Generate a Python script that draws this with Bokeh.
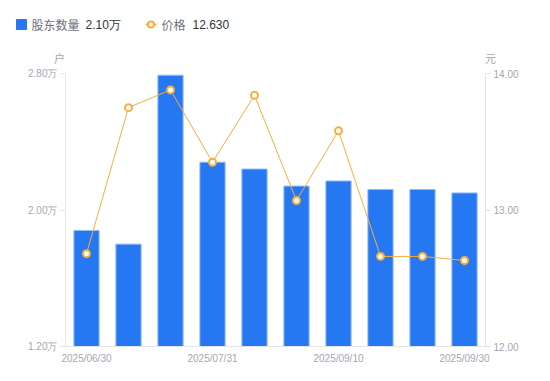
from bokeh.plotting import figure
from bokeh.models import (Range1d, LinearAxis, FixedTicker, PrintfTickFormatter,
                          ColumnDataSource, Label)
from bokeh.embed import file_html
from bokeh.resources import INLINE

dates = ["2025/06/30", "2025/07/10", "2025/07/20", "2025/07/31", "2025/08/15",
         "2025/08/29", "2025/09/10", "2025/09/19", "2025/09/26", "2025/09/30"]
holders = [1.88, 1.80, 2.79, 2.28, 2.24, 2.14, 2.17, 2.12, 2.12, 2.10]   # 万户
prices = [12.68, 13.75, 13.88, 13.35, 13.84, 13.07, 13.58, 12.66, 12.66, 12.63]
shown_ticks = [0, 3, 6, 9]
left_ticks = [1.2, 2.0, 2.8]
right_ticks = [12.0, 13.0, 14.0]

BLUE = "#2577F2"
ORANGE = "#F8AE3C"
GREY = "#a3a7b0"
AXIS = "#e3e5e8"
FONT = "Liberation Sans"
CJK = "Noto Sans CJK SC"

# ---------- top strip: legend and unit labels ----------
top = figure(width=550, height=66, x_range=Range1d(0, 550), y_range=Range1d(0, 66),
             output_backend="svg", toolbar_location=None, min_border=0)
top.axis.visible = False
top.grid.visible = False
top.outline_line_color = None

top.scatter([21], [42], marker="square", size=10, color=BLUE)
top.line([145, 156], [42, 42], color=ORANGE, line_width=1.5)
top.scatter([150.5], [42], marker="circle", size=6, line_color=ORANGE, fill_color="white", line_width=2)

def lab(p, x, y, t, color, size="12px", align="left", font=FONT):
    p.add_layout(Label(x=x, y=y, text=t, text_color=color, text_font=font,
                       text_font_size=size, text_baseline="middle", text_align=align))

lab(top, 31, 42, "股东数量", "#6e7079", font=CJK)
lab(top, 85, 42, f"{holders[-1]:.2f}万", "#333333")
lab(top, 161, 42, "价格", "#6e7079", font=CJK)
lab(top, 192, 42, f"{prices[-1]:.3f}", "#333333")
lab(top, 59, 9, "户", GREY, "11px", "center", CJK)
lab(top, 490, 9, "元", GREY, "11px", "center", CJK)

# ---------- main chart ----------
p = figure(width=550, height=315, x_range=Range1d(-0.5, 9.5), y_range=Range1d(1.2, 2.8),
           output_backend="svg", toolbar_location=None,
           min_border_left=65, min_border_right=65, min_border_top=7, min_border_bottom=35)
p.outline_line_color = None
p.grid.visible = False
p.extra_y_ranges = {"price": Range1d(12.0, 14.0)}

src = ColumnDataSource(dict(x=list(range(len(dates))), h=holders, pr=prices))
p.vbar(x="x", top="h", bottom=1.2, width=0.6, source=src, fill_color=BLUE,
       line_color="#8fb8f9", line_width=1)
p.line(x="x", y="pr", source=src, y_range_name="price", color=ORANGE, line_width=1)
p.scatter(x="x", y="pr", source=src, y_range_name="price", marker="circle", size=7,
          line_color=ORANGE, fill_color="white", line_width=2)

xa = p.xaxis[0]
xa.ticker = FixedTicker(ticks=shown_ticks)
xa.major_label_overrides = {i: dates[i] for i in shown_ticks}
xa.major_tick_line_color = None
xa.major_tick_out = 0
xa.major_tick_in = 0
xa.minor_tick_line_color = None
xa.axis_line_color = AXIS
xa.major_label_text_color = GREY
xa.major_label_text_font = FONT
xa.major_label_text_font_size = "10px"
xa.major_label_standoff = 6

ya = p.yaxis[0]
ya.ticker = FixedTicker(ticks=left_ticks)
ya.formatter = PrintfTickFormatter(format="%.2f万")

ra = LinearAxis(y_range_name="price", ticker=FixedTicker(ticks=right_ticks),
                formatter=PrintfTickFormatter(format="%.2f"))
p.add_layout(ra, "right")

for a in (ya, ra):
    a.axis_line_color = AXIS
    a.major_tick_line_color = AXIS
    a.major_tick_out = 5
    a.major_tick_in = 0
    a.minor_tick_line_color = None
    a.major_label_text_color = GREY
    a.major_label_text_font = FONT
    a.major_label_text_font_size = "10px"
    a.major_label_standoff = 3

open("out.html", "w").write(file_html([top, p], INLINE))
